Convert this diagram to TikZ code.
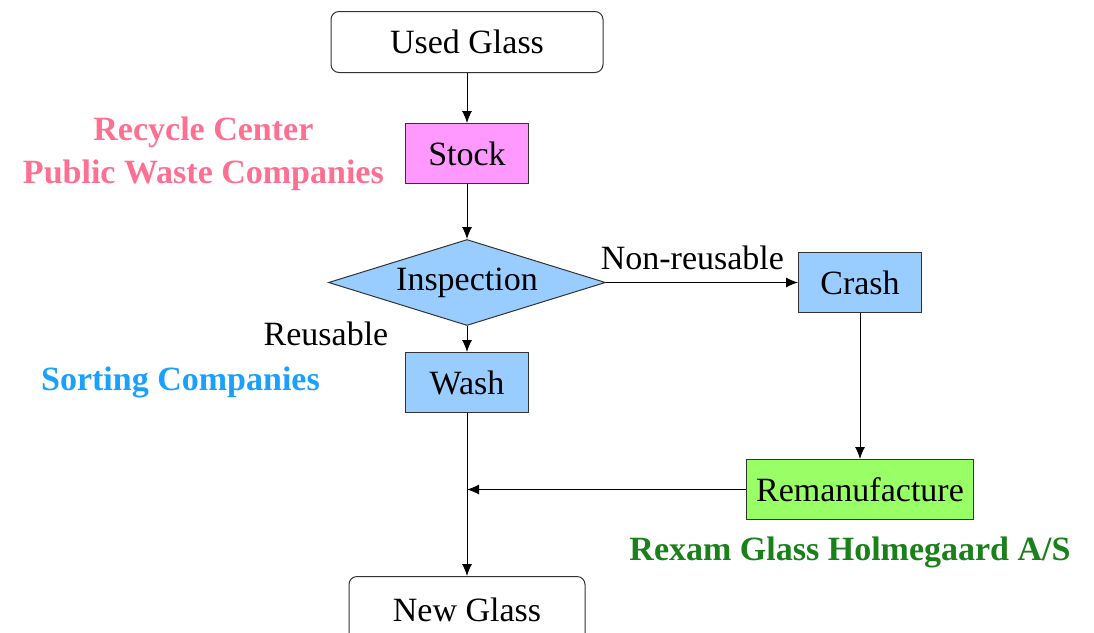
\documentclass[tikz,border=0pt]{standalone}
\usepackage{fontspec}
\setmainfont{Liberation Serif}
\usetikzlibrary{positioning,arrows.meta,shapes.geometric}

\definecolor{stockpink}{HTML}{FF99FF}
\definecolor{boxblue}{HTML}{99CCFF}
\definecolor{remgreen}{HTML}{99FF66}
\definecolor{txtpink}{HTML}{FF6F91}
\definecolor{txtblue}{HTML}{1AA0FF}
\definecolor{txtgreen}{HTML}{1A801A}

\begin{document}
\begin{tikzpicture}[x=1pt, y=-1pt, font=\fontsize{34}{42}\selectfont,
  box/.style={draw=black!80, line width=1pt, align=center, inner sep=0pt,
              minimum width=123pt, minimum height=60pt},
  endbox/.style={box, rounded corners=8pt, fill=white},
  choice/.style={diamond, shape aspect=3.2, draw=black!80, line width=1pt, fill=boxblue,
                 inner sep=0pt, minimum width=277pt, minimum height=86pt},
  who/.style={font=\fontsize{34}{43}\selectfont\bfseries, align=center, inner sep=0pt},
  arr/.style={-{Latex[length=12pt, width=10pt]}, line width=1pt, black}]
\useasboundingbox (0,0) rectangle (1094,632);
% main column
\node[endbox, minimum width=272pt, minimum height=61pt] (used) at (467,42) {Used Glass};
\node[box, fill=stockpink, below=50pt of used] (stock) {Stock};
\node[choice, below=55pt of stock] (inspect) {Inspection};
\node[box, fill=boxblue, below=26pt of inspect] (wash) {Wash};
\node[endbox, minimum width=236pt, minimum height=66pt, below=163pt of wash] (newg) {New Glass};
% right branch
\node[box, fill=boxblue, right=192pt of inspect] (crash) {Crash};
\node[box, fill=remgreen, minimum width=227pt, below=146pt of crash] (remanu) {Remanufacture};
\coordinate (join) at (wash |- remanu);
% companies
\node[who, text=txtpink, left=21pt of stock] (recycle) {Recycle Center\\Public Waste Companies};
\node[who, text=txtblue, left=85pt of wash] (sorting) {Sorting Companies};
\node[who, text=txtgreen, below=17pt of remanu, xshift=-10pt] (rexam) {Rexam Glass Holmegaard A/S};
\node[inner sep=0pt] (reus) at (326,334) {Reusable};
\draw[arr] (used) -- (stock);
\draw[arr] (stock) -- (inspect);
\draw[arr] (inspect) -- (wash);
\draw[arr] (inspect.east) -- node[above=12pt, pos=0.45, inner sep=0pt] (nonreus) {Non-reusable} (crash);
\draw[arr] (crash) -- (remanu);
\draw[arr] (remanu) -- (join);
\draw[arr] (wash) -- (newg);
\end{tikzpicture}
\end{document}
